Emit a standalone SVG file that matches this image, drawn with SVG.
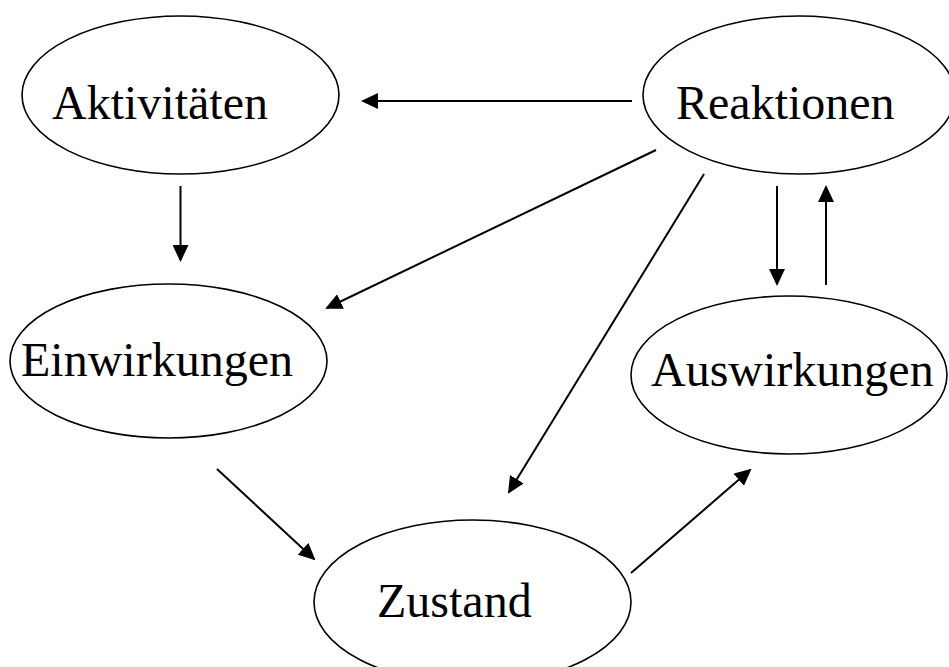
<svg xmlns="http://www.w3.org/2000/svg" width="949" height="667" viewBox="0 0 949 667">
<style>
.node ellipse{fill:#fff;stroke:#000;stroke-width:1.6}
.node text{font-family:"Liberation Serif","Times New Roman",serif;font-size:48px;fill:#000}
.conn line{stroke:#000;stroke-width:2;marker-end:url(#ah)}
</style>
<defs>
<marker id="ah" viewBox="0 0 17 16" refX="15" refY="8" markerWidth="17" markerHeight="16" markerUnits="userSpaceOnUse" orient="auto">
<path d="M0,0 L17,8 L0,16 z" fill="#000"/>
</marker>
</defs>
<rect width="949" height="667" fill="#fff"/>
<g id="aktivitaeten" class="node">
<ellipse cx="180.5" cy="95" rx="158.5" ry="79"/>
<text x="52" y="119">Aktivitäten</text>
</g>
<g id="reaktionen" class="node">
<ellipse cx="799" cy="95" rx="156" ry="79"/>
<text x="676" y="119">Reaktionen</text>
</g>
<g id="einwirkungen" class="node">
<ellipse cx="168.5" cy="361" rx="158.5" ry="77"/>
<text x="21" y="376">Einwirkungen</text>
</g>
<g id="auswirkungen" class="node">
<ellipse cx="789" cy="375" rx="158" ry="79"/>
<text x="651" y="386">Auswirkungen</text>
</g>
<g id="zustand" class="node">
<ellipse cx="472.5" cy="602" rx="158.5" ry="82"/>
<text x="377" y="617">Zustand</text>
</g>
<g id="connectors" class="conn">
<line x1="632" y1="101" x2="363" y2="101"/>
<line x1="180.5" y1="186" x2="180.5" y2="260"/>
<line x1="656" y1="150" x2="327" y2="308"/>
<line x1="704" y1="174" x2="509" y2="492"/>
<line x1="777" y1="186" x2="777" y2="284"/>
<line x1="826" y1="285" x2="826" y2="187"/>
<line x1="217" y1="469" x2="314" y2="559"/>
<line x1="631" y1="573" x2="750" y2="470"/>
</g>
</svg>
